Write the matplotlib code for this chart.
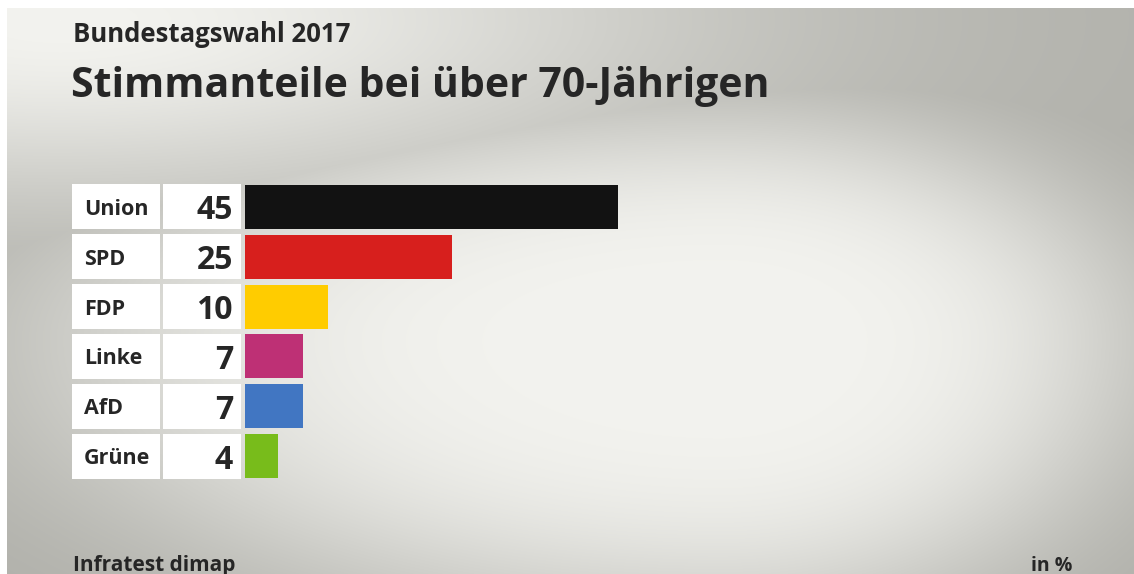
import numpy as np
import matplotlib
matplotlib.use("Agg")
import matplotlib.pyplot as plt
from matplotlib.patches import Rectangle
from matplotlib.transforms import blended_transform_factory

# ── data ──────────────────────────────────────────────────────────────────────
parties = ["Union", "SPD", "FDP", "Linke", "AfD", "Grüne"]
shares = [45, 25, 10, 7, 7, 4]
colors = ["#121212", "#d71f1d", "#ffcc00", "#be3075", "#4176c2", "#78bc1b"]

supertitle = "Bundestagswahl 2017"
title = "Stimmanteile bei über 70-Jährigen"
source = "Infratest dimap"
unit = "in %"

W, H = 1134, 574
TXT = "#262626"
FONT = "Open Sans"

fig = plt.figure(figsize=(W / 100, H / 100), dpi=100)
fig.patch.set_facecolor("white")

# ── background: light centre glow + glow in the top-left corner ──────────────
bg = fig.add_axes([7 / W, 0, 1 - 7 / W, 1 - 8 / H])
bg.set_axis_off()
yy, xx = np.mgrid[8:H, 7:W].astype(float)
cx, cy = 720.0, 340.0
dx = (xx - cx) / np.where(xx < cx, 680.0, 420.0)
dy = (yy - cy) / np.where(yy < cy, 230.0, 280.0)
g1 = np.exp(-(dx ** 2 + dy ** 2) ** 2)
g2 = np.exp(-((xx - 60) ** 2) / (2 * 450.0 ** 2) - ((yy - 20) ** 2) / (2 * 130.0 ** 2))
g = np.maximum(g1, g2)
light = np.array([243, 243, 239]) / 255
dark = np.array([176, 176, 170]) / 255
img = dark[None, None, :] + (light - dark)[None, None, :] * g[..., None]
bg.imshow(img, aspect="auto", extent=[0, 1, 0, 1], interpolation="bilinear")
bg.set_xlim(0, 1)
bg.set_ylim(0, 1)

# ── bar axes ──────────────────────────────────────────────────────────────────
x0_px, x1_px = 245, 1080
top_px, bot_px = 182, 481
px_per_unit = 8.29
ax = fig.add_axes([x0_px / W, 1 - bot_px / H, (x1_px - x0_px) / W, (bot_px - top_px) / H])
ax.set_axis_off()
ax.patch.set_alpha(0)
n = len(parties)
ypos = np.arange(n)
ax.barh(ypos, shares, height=0.88, color=colors, left=0)
ax.set_xlim(0, (x1_px - x0_px) / px_per_unit)
ax.set_ylim(n - 0.5, -0.5)

# label / value boxes, x in figure pixels, y in data
tr = blended_transform_factory(fig.transFigure, ax.transData)
for i, (p, v) in enumerate(zip(parties, shares)):
    fig.add_artist(Rectangle((72 / W, i - 0.45), 88 / W, 0.9, transform=tr,
                             facecolor="white", edgecolor="none"))
    fig.add_artist(Rectangle((163 / W, i - 0.45), 78 / W, 0.9, transform=tr,
                             facecolor="white", edgecolor="none"))
    fig.text(84 / W, i, p, transform=tr, ha="left", va="center_baseline",
             fontsize=15.5, fontweight="bold", family=FONT, color=TXT)
    fig.text(233 / W, i, f"{v}", transform=tr, ha="right", va="center_baseline",
             fontsize=23, fontweight="bold", family=FONT, color=TXT)

# ── titles and footer ─────────────────────────────────────────────────────────
fig.text(73 / W, 1 - 42 / H, supertitle, ha="left", va="baseline",
         fontsize=18.5, fontweight="bold", family=FONT, color=TXT)
fig.text(71 / W, 1 - 97 / H, title, ha="left", va="baseline",
         fontsize=29.5, fontweight="bold", family=FONT, color=TXT)
fig.text(73 / W, 1 - 571 / H, source, ha="left", va="baseline",
         fontsize=15, fontweight="bold", family=FONT, color=TXT)
fig.text(1072 / W, 1 - 571 / H, unit, ha="right", va="baseline",
         fontsize=14, fontweight="bold", family=FONT, color=TXT)

fig.savefig("out.png", dpi=100)
